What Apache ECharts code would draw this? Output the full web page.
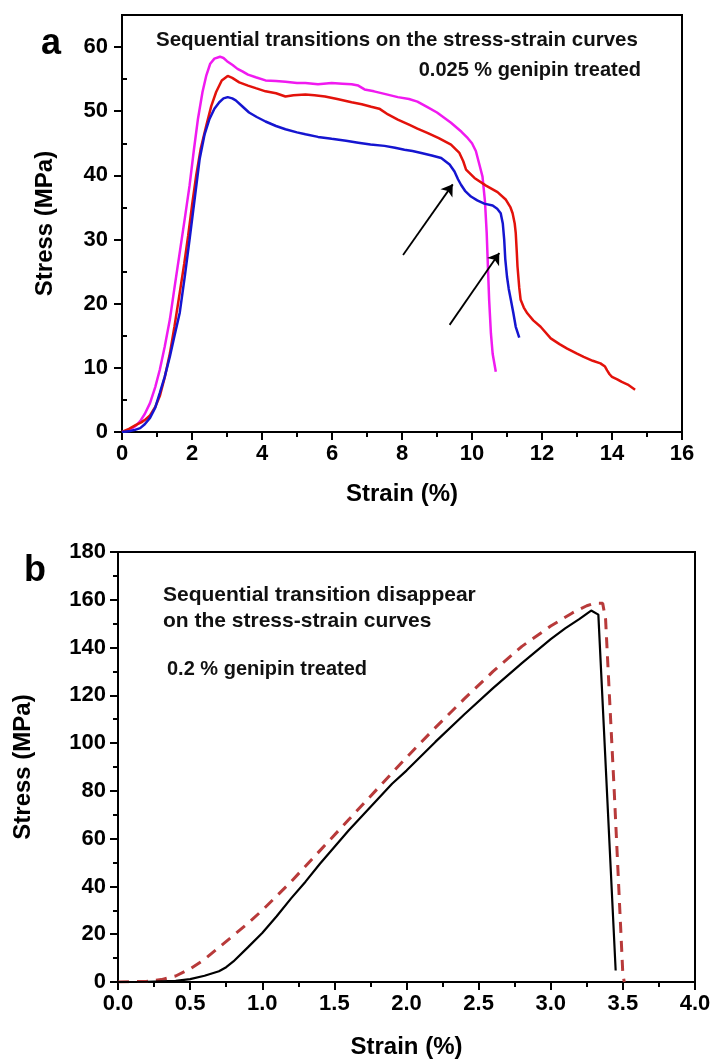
<!DOCTYPE html>
<html>
<head>
<meta charset="utf-8">
<script src="https://cdn.jsdelivr.net/npm/echarts@6/dist/echarts.min.js"></script>
<style>
html,body{margin:0;padding:0;background:#fff;}
#c{width:714px;height:1063px;}
</style>
</head>
<body>
<div id="c"></div>
<script>
// ---------- Panel a: 0.025 % genipin treated ----------
const magentaStrain = [0,0.2,0.4,0.52,0.65,0.8,0.95,1.08,1.22,1.37,1.5,1.65,1.8,1.93,2.05,2.17,2.3,2.41,2.52,2.64,2.8,2.9,3.0,3.16,3.3,3.44,3.6,3.82,4.1,4.4,4.67,5.0,5.24,5.6,5.99,6.3,6.56,6.75,6.93,7.2,7.5,7.88,8.2,8.44,8.74,9.0,9.4,9.7,9.88,10.0,10.11,10.22,10.3,10.37,10.42,10.46,10.49,10.54,10.59,10.68];
const magentaStress = [0,0.3,1,1.7,2.8,4.5,7,9.7,13.3,17.6,22.5,28,33.5,38.4,43.8,48.8,53,55.6,57.4,58.2,58.5,58.3,57.8,57.2,56.6,56.2,55.7,55.3,54.8,54.7,54.6,54.4,54.4,54.2,54.4,54.3,54.2,54,53.4,53.1,52.7,52.2,51.9,51.5,50.6,49.8,48.2,46.8,45.8,45,43.8,41.5,39.8,36,31,25,20.6,15.4,12.2,9.4];

const redStrain = [0,0.2,0.4,0.55,0.68,0.8,0.95,1.08,1.22,1.37,1.5,1.65,1.78,1.89,2.0,2.12,2.25,2.41,2.55,2.69,2.85,3.02,3.15,3.35,3.6,3.82,4.1,4.4,4.67,4.9,5.24,5.5,5.8,6.15,6.56,6.85,7.12,7.35,7.6,7.88,8.2,8.44,8.74,9.05,9.4,9.64,9.75,9.83,10.07,10.4,10.73,10.97,11.1,11.16,11.22,11.25,11.28,11.3,11.35,11.39,11.48,11.58,11.75,11.96,12.25,12.5,12.72,13.0,13.19,13.45,13.67,13.8,13.86,13.93,14.0,14.15,14.28,14.45,14.66];
const redStress = [0,0.5,1.1,1.5,2,2.6,3.9,5.6,8.5,12.3,16.5,21.7,26.3,30.6,35.3,40,44.2,47.8,50.8,53,54.8,55.5,55.2,54.5,54,53.6,53.1,52.8,52.3,52.5,52.6,52.5,52.3,51.9,51.4,51.1,50.7,50.4,49.5,48.7,47.9,47.3,46.6,45.8,44.8,43.5,42.2,40.9,39.6,38.4,37.4,36.2,35,34.1,32.5,31,28,25.8,22.5,20.6,19.4,18.5,17.4,16.4,14.6,13.7,13,12.2,11.7,11.1,10.7,10.2,9.6,9,8.6,8.2,7.8,7.4,6.6];

const blueStrain = [0,0.2,0.35,0.52,0.65,0.8,0.95,1.08,1.22,1.37,1.5,1.65,1.8,1.93,2.08,2.22,2.36,2.5,2.64,2.78,2.9,3.02,3.15,3.25,3.45,3.63,3.85,4.1,4.4,4.67,5.0,5.24,5.6,5.99,6.4,6.75,7.1,7.5,7.8,8.07,8.3,8.55,8.85,9.12,9.36,9.5,9.6,9.69,9.8,9.97,10.15,10.35,10.59,10.72,10.82,10.88,10.92,10.95,11.0,11.05,11.11,11.18,11.25,11.35];
const blueStress = [0,0.1,0.3,0.6,1.2,2.2,3.8,6.1,8.6,11.8,15,18.6,24.5,30,36.5,42.6,46.4,48.8,50.4,51.4,52,52.2,52,51.7,50.7,49.8,49.1,48.4,47.7,47.2,46.7,46.4,46,45.7,45.4,45.1,44.8,44.6,44.3,44.0,43.8,43.5,43.1,42.7,41.7,40.6,39.4,38.5,37.6,36.7,36.1,35.6,35.3,34.8,34.1,32.5,30,27,24.2,22.3,20.6,18.6,16.4,14.7];

// arrows: tail and head points (strain, stress)
const arrowFrom = [[8.03, 27.6], [9.36, 16.7]];
const arrowTo   = [[9.45, 38.6], [10.78, 27.9]];

const aYTicks = [0,10,20,30,40,50,60];
const aYMinor = [5,15,25,35,45,55];

// ---------- Panel b: 0.2 % genipin treated ----------
const blackStrain = [0,0.2,0.4,0.5,0.6,0.7,0.75,0.8,0.9,1.0,1.1,1.2,1.3,1.4,1.5,1.6,1.7,1.8,1.9,2.0,2.2,2.4,2.6,2.8,3.0,3.1,3.2,3.28,3.33,3.45];
const blackStress = [0,0.1,0.5,1.2,2.6,4.5,6.2,8.6,14.5,20.5,27.5,35,42,49.5,56.5,63.5,70,76.5,83,88.5,100.5,112,123,133.5,143.5,148,152,155.5,153.8,4.8];

const dashStrain = [0,0.2,0.3,0.4,0.5,0.6,0.7,0.8,0.9,1.0,1.2,1.4,1.6,1.8,2.0,2.2,2.4,2.6,2.8,3.0,3.15,3.25,3.3,3.36,3.38,3.44,3.5,3.51];
const dashStress = [0,0.3,1,2.5,5.5,9.5,14.5,19.5,24.5,30,42,55,68,81,94,106.5,118.5,130,140.5,149,154.5,157.5,158.5,158.5,152,80,3,0];

const zip = (xs, ys) => xs.map((x, i) => [x, ys[i]]);

const FONT = '"Liberation Sans", Arial, sans-serif';
const black = '#000';
const labelStyle = {color: black, fontWeight: 'bold', fontSize: 22, fontFamily: FONT};
const nameStyle = {color: black, fontWeight: 'bold', fontSize: 24, fontFamily: FONT};
const lineAx = {show: true, onZero: false, lineStyle: {color: black, width: 2}};

const chart = echarts.init(document.getElementById('c'), null, {renderer: 'canvas'});

const option = {
  animation: false,
  backgroundColor: '#fff',
  grid: [
    {left: 122, right: 32, top: 15, bottom: 631, show: true, borderColor: black, borderWidth: 2, backgroundColor: 'transparent'},
    {left: 118, right: 19, top: 552, bottom: 81, show: true, borderColor: black, borderWidth: 2, backgroundColor: 'transparent'}
  ],
  xAxis: [
    {
      type: 'value', gridIndex: 0, min: 0, max: 16, interval: 2,
      name: 'Strain (%)', nameLocation: 'middle', nameGap: 50, nameTextStyle: nameStyle,
      axisLine: lineAx,
      axisTick: {show: true, inside: false, length: 8, lineStyle: {color: black, width: 2}},
      minorTick: {show: true, splitNumber: 2, length: 5, lineStyle: {color: black, width: 2}},
      axisLabel: Object.assign({margin: 11}, labelStyle),
      splitLine: {show: false}
    },
    {
      type: 'value', gridIndex: 1, min: 0, max: 4, interval: 0.5,
      name: 'Strain (%)', nameLocation: 'middle', nameGap: 53, nameTextStyle: nameStyle,
      axisLine: lineAx,
      axisTick: {show: true, inside: false, length: 8, lineStyle: {color: black, width: 2}},
      minorTick: {show: true, splitNumber: 2, length: 5, lineStyle: {color: black, width: 2}},
      axisLabel: Object.assign({margin: 11, formatter: v => v.toFixed(1)}, labelStyle),
      splitLine: {show: false}
    }
  ],
  yAxis: [
    {
      type: 'value', gridIndex: 0, min: 0, max: 65, interval: 10,
      name: 'Stress (MPa)', nameLocation: 'middle', nameGap: 65, nameTextStyle: nameStyle,
      axisLine: lineAx,
      axisTick: {show: true, inside: false, length: 8, customValues: aYTicks, lineStyle: {color: black, width: 2}},
      axisLabel: Object.assign({margin: 14, customValues: aYTicks}, labelStyle),
      splitLine: {show: false}
    },
    {
      type: 'value', gridIndex: 0, min: 0, max: 65, interval: 5,
      axisLine: {show: false},
      axisTick: {show: true, inside: false, length: 5, customValues: aYMinor, lineStyle: {color: black, width: 2}},
      axisLabel: {show: false},
      splitLine: {show: false}
    },
    {
      type: 'value', gridIndex: 1, min: 0, max: 180, interval: 20,
      name: 'Stress (MPa)', nameLocation: 'middle', nameGap: 83, nameTextStyle: nameStyle,
      axisLine: lineAx,
      axisTick: {show: true, inside: false, length: 8, lineStyle: {color: black, width: 2}},
      minorTick: {show: true, splitNumber: 2, length: 5, lineStyle: {color: black, width: 2}},
      axisLabel: Object.assign({margin: 12}, labelStyle),
      splitLine: {show: false}
    }
  ],
  series: [
    {type: 'line', xAxisIndex: 0, yAxisIndex: 0, data: zip(magentaStrain, magentaStress), showSymbol: false, symbol: 'none',
      lineStyle: {color: '#f01af0', width: 2.5}, z: 3},
    {type: 'line', xAxisIndex: 0, yAxisIndex: 0, data: zip(redStrain, redStress), showSymbol: false, symbol: 'none',
      lineStyle: {color: '#e3120b', width: 2.5}, z: 4},
    {type: 'line', xAxisIndex: 0, yAxisIndex: 0, data: zip(blueStrain, blueStress), showSymbol: false, symbol: 'none',
      lineStyle: {color: '#1515d0', width: 2.5}, z: 5,
      markLine: {
        silent: true, symbol: ['none', 'arrow'], symbolSize: 11,
        lineStyle: {color: black, width: 1.8, type: 'solid'},
        itemStyle: {color: black},
        label: {show: false},
        emphasis: {disabled: true},
        data: arrowFrom.map((p, i) => [{coord: p}, {coord: arrowTo[i]}])
      }},
    {type: 'line', xAxisIndex: 1, yAxisIndex: 2, data: zip(blackStrain, blackStress), showSymbol: false, symbol: 'none',
      lineStyle: {color: black, width: 2.2}, z: 4},
    {type: 'line', xAxisIndex: 1, yAxisIndex: 2, data: zip(dashStrain, dashStress), showSymbol: false, symbol: 'none',
      lineStyle: {color: '#b83a3a', width: 3, type: [11, 8]}, z: 3}
  ],
  graphic: [
    {type: 'text', left: 41, top: 26, style: {text: 'a', font: 'bold 36px ' + FONT, fill: black}},
    {type: 'text', left: 24, top: 553, style: {text: 'b', font: 'bold 36px ' + FONT, fill: black}},
    {type: 'text', left: 156, top: 30, style: {text: 'Sequential transitions on the stress-strain curves', font: 'bold 20.5px ' + FONT, fill: '#111'}},
    {type: 'text', right: 73, top: 60, style: {text: '0.025 % genipin treated', font: 'bold 20px ' + FONT, fill: '#111', textAlign: 'right'}},
    {type: 'text', left: 163, top: 585, style: {text: 'Sequential transition disappear', font: 'bold 21px ' + FONT, fill: '#111'}},
    {type: 'text', left: 163, top: 611, style: {text: 'on the stress-strain curves', font: 'bold 21px ' + FONT, fill: '#111'}},
    {type: 'text', left: 167, top: 659, style: {text: '0.2 % genipin treated', font: 'bold 20px ' + FONT, fill: '#111'}}
  ]
};
chart.setOption(option);
</script>
</body>
</html>
